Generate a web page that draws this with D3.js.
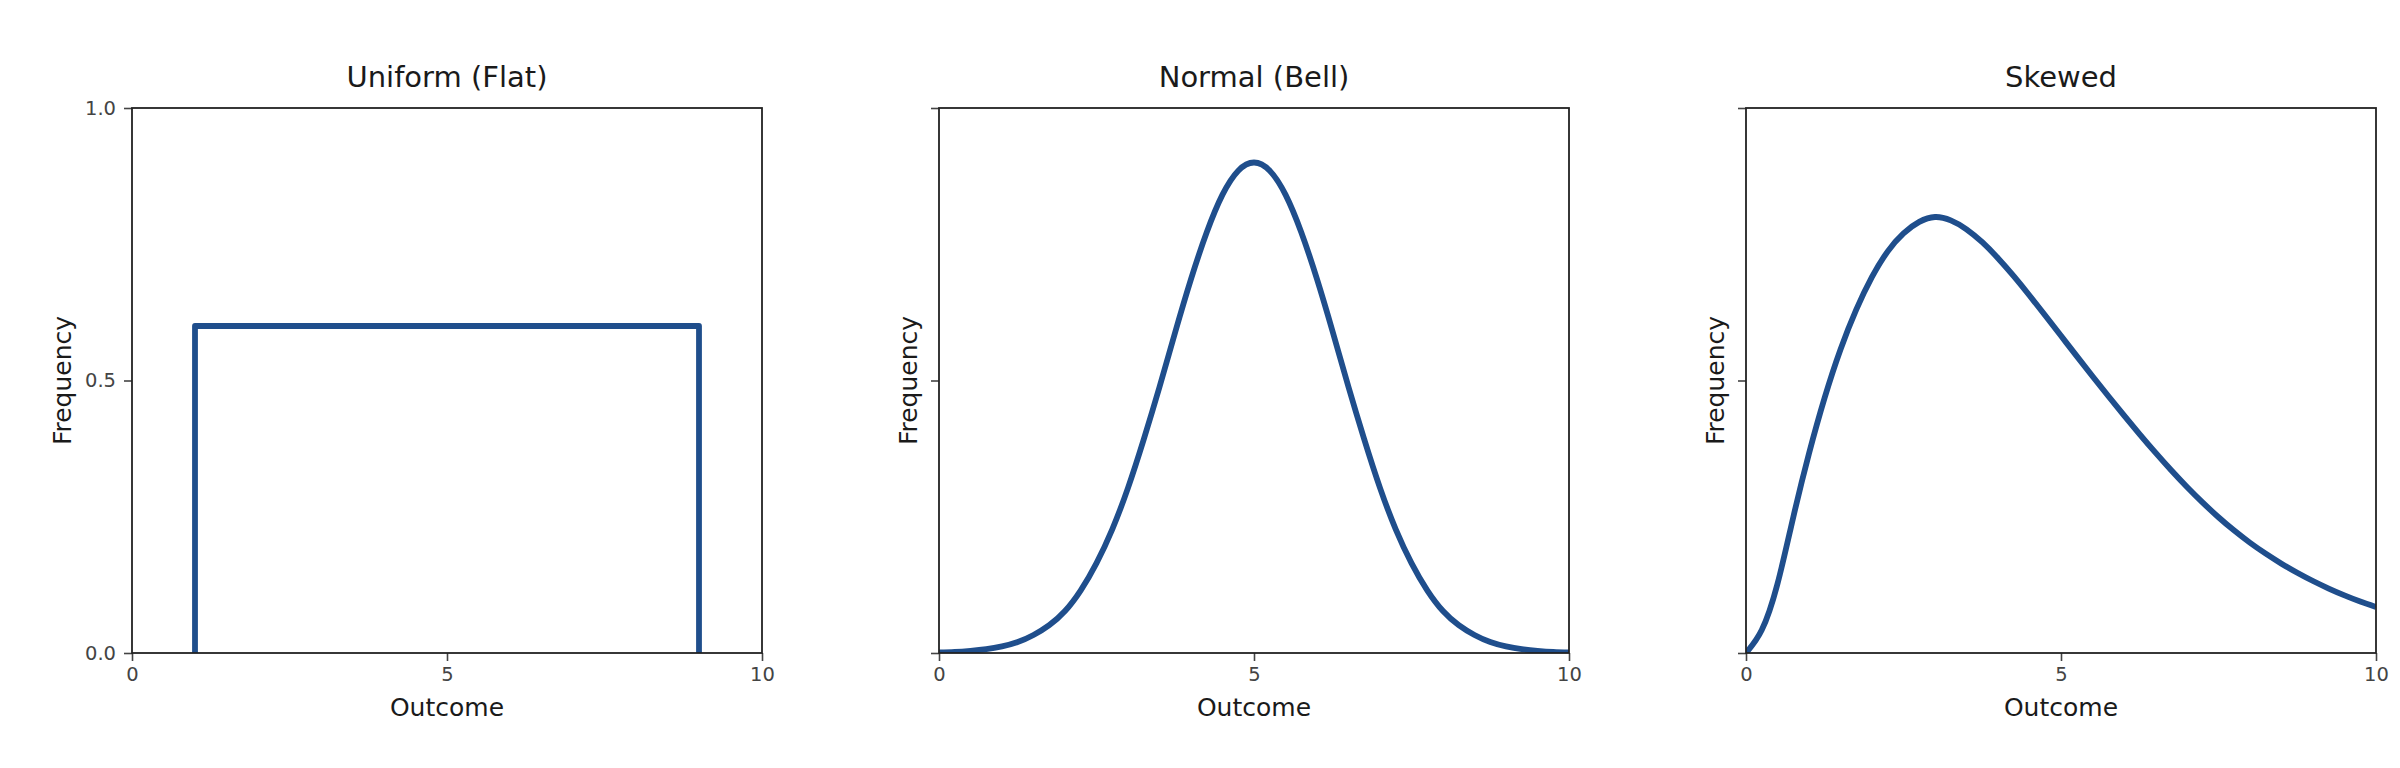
<!DOCTYPE html>
<html>
<head>
<meta charset="utf-8">
<script src="https://cdn.jsdelivr.net/npm/d3@7"></script>
<style>
  html, body { margin: 0; padding: 0; background: #ffffff; }
  svg { display: block; }
  text { font-family: "DejaVu Sans", sans-serif; }
</style>
</head>
<body>
<svg id="chart" width="2400" height="768"></svg>
<script>
// ---------------- DATA ----------------
const panelTitles = ["Uniform (Flat)", "Normal (Bell)", "Skewed"];
const xLabel = "Outcome";
const yLabel = "Frequency";
const xTickValues = [0, 5, 10];
const xTickLabels = ["0", "5", "10"];
const yTickValues = [0, 0.5, 1.0];
const yTickLabels = ["0.0", "0.5", "1.0"];

const uniformX = [1, 1, 9, 9];
const uniformY = [0, 0.6, 0.6, 0];

const normalX = [0, 0.25, 0.5, 0.75, 1, 1.25, 1.5, 1.75, 2, 2.25, 2.5, 2.75, 3, 3.25, 3.5, 3.75, 4, 4.25, 4.5, 4.75,
                 5, 5.25, 5.5, 5.75, 6, 6.25, 6.5, 6.75, 7, 7.25, 7.5, 7.75, 8, 8.25, 8.5, 8.75, 9, 9.25, 9.5, 9.75, 10];
const normalY = [0.001, 0.002, 0.004, 0.007, 0.012, 0.020, 0.033, 0.051, 0.077, 0.115, 0.165, 0.227, 0.303, 0.392, 0.488, 0.589,
                 0.686, 0.772, 0.841, 0.885, 0.900, 0.885, 0.841, 0.772, 0.686, 0.589, 0.488, 0.392, 0.303, 0.227, 0.165,
                 0.115, 0.077, 0.051, 0.033, 0.020, 0.012, 0.007, 0.004, 0.002, 0.001];

const skewedX = [0, 0.25, 0.5, 0.75, 1, 1.25, 1.5, 1.75, 2, 2.25, 2.5, 2.75, 3, 3.25, 3.5, 3.75, 4, 4.25, 4.5, 4.75,
                 5, 5.25, 5.5, 5.75, 6, 6.25, 6.5, 6.75, 7, 7.25, 7.5, 7.75, 8, 8.25, 8.5, 8.75, 9, 9.25, 9.5, 9.75, 10];
const skewedY = [0, 0.042, 0.127, 0.249, 0.366, 0.469, 0.557, 0.630, 0.690, 0.737, 0.770, 0.791, 0.800, 0.7938, 0.7775, 0.7537,
                 0.7244, 0.6914, 0.6560, 0.6192, 0.5820, 0.5447, 0.5078, 0.4716, 0.4360, 0.4013, 0.3676, 0.3353, 0.3046,
                 0.2759, 0.2491, 0.2246, 0.2023, 0.1822, 0.1639, 0.1473, 0.1321, 0.1183, 0.1058, 0.0945, 0.0845];

// ---------------- LAYOUT ----------------
const panelLeft = [132, 939, 1746];
const plotW = 630, plotTop = 108, plotH = 545;
const lineColor = "#1f4e8c";
const spineColor = "#222222";
const tickColor = "#444444";
const textColor = "#1a1a1a";

const series = [
  { xs: uniformX, ys: uniformY, curve: d3.curveLinear, showYLabels: true },
  { xs: normalX, ys: normalY, curve: d3.curveNatural, showYLabels: false },
  { xs: skewedX, ys: skewedY, curve: d3.curveNatural, showYLabels: false }
];

const svg = d3.select("#chart");
svg.append("rect").attr("width", 2400).attr("height", 768).attr("fill", "#ffffff");

series.forEach((s, i) => {
  const g = svg.append("g").attr("transform", `translate(${panelLeft[i]},${plotTop})`);
  const x = d3.scaleLinear().domain([0, 10]).range([0, plotW]);
  const y = d3.scaleLinear().domain([0, 1]).range([plotH, 0]);

  const clipId = "clip" + i;
  g.append("clipPath").attr("id", clipId)
    .append("rect").attr("x", 0).attr("y", 0).attr("width", plotW).attr("height", plotH);

  const pts = s.xs.map((xv, k) => [xv, s.ys[k]]);
  const line = d3.line().x(d => x(d[0])).y(d => y(d[1])).curve(s.curve);
  g.append("path")
    .attr("clip-path", `url(#${clipId})`)
    .attr("d", line(pts))
    .attr("fill", "none")
    .attr("stroke", lineColor)
    .attr("stroke-width", 5.8)
    .attr("stroke-linejoin", "round")
    .attr("stroke-linecap", "butt");

  const xAxis = d3.axisBottom(x).tickValues(xTickValues)
    .tickFormat((d, k) => xTickLabels[k]).tickSize(8).tickPadding(6);
  const gx = g.append("g").attr("transform", `translate(0,${plotH})`).call(xAxis);
  gx.select(".domain").remove();
  gx.selectAll(".tick line").attr("stroke", tickColor).attr("stroke-width", 1.6);
  gx.selectAll(".tick text").attr("fill", tickColor).attr("font-size", "19.5px")
    .attr("font-family", "DejaVu Sans, sans-serif");

  const yAxis = d3.axisLeft(y).tickValues(yTickValues)
    .tickFormat((d, k) => s.showYLabels ? yTickLabels[k] : "").tickSize(8).tickPadding(8);
  const gy = g.append("g").call(yAxis);
  gy.select(".domain").remove();
  gy.selectAll(".tick line").attr("stroke", tickColor).attr("stroke-width", 1.6);
  gy.selectAll(".tick text").attr("fill", tickColor).attr("font-size", "19.5px")
    .attr("font-family", "DejaVu Sans, sans-serif");

  g.append("rect").attr("x", 0).attr("y", 0).attr("width", plotW).attr("height", plotH)
    .attr("fill", "none").attr("stroke", spineColor).attr("stroke-width", 1.8);

  g.append("text").attr("x", plotW / 2).attr("y", -21)
    .attr("text-anchor", "middle").attr("font-size", "29px").attr("fill", textColor)
    .text(panelTitles[i]);

  g.append("text").attr("x", plotW / 2).attr("y", plotH + 63)
    .attr("text-anchor", "middle").attr("font-size", "25px").attr("fill", textColor)
    .text(xLabel);

  const yl = s.showYLabels ? -61 : -22;
  g.append("text")
    .attr("transform", `translate(${yl},${plotH / 2}) rotate(-90)`)
    .attr("text-anchor", "middle").attr("font-size", "25px").attr("fill", textColor)
    .text(yLabel);
});
</script>
</body>
</html>
